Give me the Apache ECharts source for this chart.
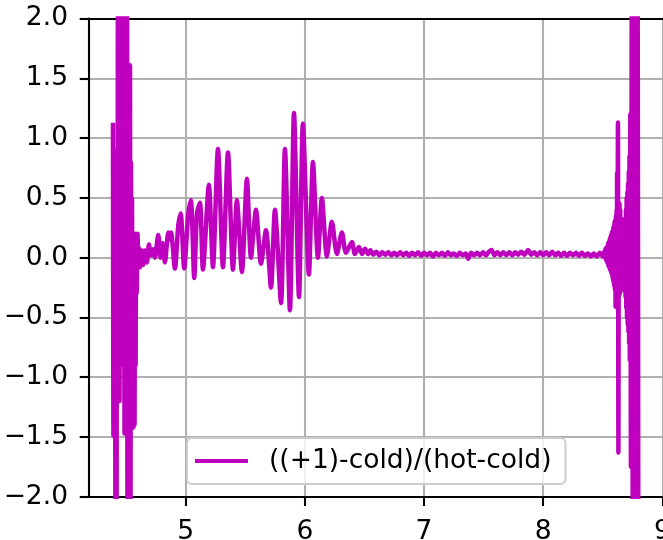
<!DOCTYPE html>
<html>
<head>
<meta charset="utf-8">
<script src="https://cdn.jsdelivr.net/npm/echarts@6/dist/echarts.min.js"></script>
<style>
html,body{margin:0;padding:0;background:#fff;}
#chart{width:663px;height:540px;}
</style>
</head>
<body>
<div id="chart"></div>
<script>
// ---- data ----
const seriesName = '((+1)-cold)/(hot-cold)';
const xTicks = [5, 6, 7, 8, 9];
const yTicks = [-2.0, -1.5, -1.0, -0.5, 0.0, 0.5, 1.0, 1.5, 2.0];

// left burst of large spikes
const leftX = [4.390, 4.394, 4.398, 4.403, 4.407, 4.411, 4.416, 4.420, 4.424, 4.428,
               4.432, 4.436, 4.441, 4.445, 4.449, 4.453, 4.457, 4.461, 4.466, 4.470,
               4.474, 4.478, 4.483, 4.487, 4.491, 4.495, 4.499, 4.503, 4.508, 4.512,
               4.516, 4.520, 4.524, 4.529, 4.533, 4.537, 4.541, 4.546, 4.550, 4.554,
               4.558, 4.562, 4.567, 4.571, 4.575, 4.580, 4.584, 4.589, 4.596];
const leftY = [1.11, -1.49, 0.90, -1.30, 0.60, -2.5, 0.50, -2.5, 0.83, -1.0,
               2.6, -0.9, 2.6, -1.2, 2.6, -0.8, 2.5, -0.73, 2.6, -0.73,
               2.5, -0.9, 1.21, -1.47, 2.6, -1.3, 2.6, -1.47, 2.4, -2.6,
               1.0, -2.6, 1.2, -2.5, 1.61, -2.4, 0.8, -1.42, 0.5, -1.42,
               0.19, -1.42, 0.20, -1.40, 0.20, -0.9, 0.15, -0.3, 0.20];

// oscillating packet between ~4.6 and ~6.5
const midX = [4.604, 4.608, 4.617, 4.631, 4.644, 4.659, 4.675, 4.692, 4.709, 4.728,
              4.742, 4.770, 4.790, 4.807, 4.826, 4.854, 4.866, 4.877, 4.910, 4.938,
              4.958, 4.988, 5.022, 5.044, 5.072, 5.095, 5.120, 5.145, 5.195, 5.229,
              5.271, 5.313, 5.355, 5.397, 5.430, 5.472, 5.514, 5.548, 5.590, 5.632,
              5.674, 5.716, 5.749, 5.800, 5.833, 5.875, 5.909, 5.951, 5.984, 6.034,
              6.068, 6.110, 6.143, 6.185, 6.227, 6.269, 6.311, 6.345, 6.395, 6.420,
              6.454];
const midY = [-0.05, 0.08, -0.08, 0.06, -0.06, 0.06, -0.04, 0.11, 0.02, 0.07,
              0.00, 0.19, 0.00, 0.12, -0.04, 0.21, 0.15, 0.21, -0.09, 0.27,
              0.37, -0.09, 0.37, 0.48, -0.17, 0.37, 0.46, -0.10, 0.61, -0.08,
              0.91, -0.08, 0.88, -0.10, 0.48, -0.12, 0.66, 0.00, 0.40, -0.05,
              0.23, -0.25, 0.40, -0.38, 0.91, -0.44, 1.21, -0.33, 1.12, -0.14,
              0.80, 0.00, 0.50, 0.01, 0.30, 0.03, 0.21, 0.04, 0.13, 0.03,
              0.09];

// nearly flat noisy stretch
const flatX = [6.480, 6.505, 6.530, 6.550, 6.575, 6.600, 6.625, 6.650, 6.675, 6.700,
               6.725, 6.750, 6.775, 6.800, 6.825, 6.850, 6.875, 6.900, 6.925, 6.950,
               6.975, 7.000, 7.025, 7.050, 7.075, 7.100, 7.125, 7.150, 7.175, 7.200,
               7.225, 7.250, 7.275, 7.300, 7.325, 7.350, 7.370, 7.395, 7.420, 7.445,
               7.470, 7.495, 7.520, 7.545, 7.567, 7.590, 7.615, 7.640, 7.665, 7.690,
               7.715, 7.740, 7.765, 7.790, 7.815, 7.840, 7.874, 7.900, 7.925, 7.950,
               7.975, 8.000, 8.025, 8.050, 8.075, 8.100, 8.125, 8.150, 8.175, 8.200,
               8.225, 8.250, 8.275, 8.300, 8.325, 8.350, 8.375, 8.400, 8.425, 8.450,
               8.475, 8.500, 8.512];
const flatY = [0.030, 0.075, 0.030, 0.065, 0.025, 0.050, 0.020, 0.045, 0.025, 0.045,
               0.020, 0.040, 0.020, 0.045, 0.020, 0.040, 0.015, 0.040, 0.020, 0.045,
               0.015, 0.040, 0.020, 0.040, 0.010, 0.040, 0.020, 0.040, 0.015, 0.045,
               0.020, 0.035, 0.015, 0.040, 0.020, 0.035, -0.010, 0.040, 0.020, 0.040,
               0.020, 0.045, 0.020, 0.050, 0.065, 0.020, 0.045, 0.020, 0.045, 0.020,
               0.045, 0.020, 0.045, 0.025, 0.050, 0.025, 0.065, 0.025, 0.045, 0.020,
               0.045, 0.020, 0.045, 0.020, 0.050, 0.020, 0.040, 0.015, 0.040, 0.015,
               0.040, 0.020, 0.040, 0.015, 0.040, 0.015, 0.035, 0.010, 0.035, 0.010,
               0.040, 0.010, 0.050];

// right burst
const rightX = [8.518, 8.521, 8.524, 8.527, 8.530, 8.533, 8.536, 8.539, 8.542, 8.545,
                8.548, 8.551, 8.554, 8.557, 8.560, 8.563, 8.566, 8.569, 8.572, 8.575,
                8.578, 8.581, 8.584, 8.587, 8.590, 8.593, 8.596, 8.599, 8.602, 8.605,
                8.607, 8.610, 8.613, 8.616, 8.618, 8.620, 8.623, 8.627, 8.631, 8.634,
                8.637, 8.640, 8.643, 8.646, 8.649, 8.652, 8.655, 8.658, 8.661, 8.664,
                8.667, 8.670, 8.673, 8.676, 8.679, 8.682, 8.685, 8.688, 8.691, 8.694,
                8.697, 8.700, 8.703, 8.706, 8.709, 8.712, 8.715, 8.718, 8.721, 8.724,
                8.727, 8.731, 8.736, 8.744, 8.752, 8.760, 8.768, 8.776, 8.784, 8.792,
                8.798];
const rightY = [0.00, 0.07, -0.01, 0.08, -0.03, 0.09, -0.04, 0.10, -0.05, 0.12,
                -0.07, 0.13, -0.08, 0.15, -0.10, 0.17, -0.11, 0.19, -0.13, 0.21,
                -0.15, 0.22, -0.18, 0.25, -0.21, 0.27, -0.24, 0.30, -0.27, 0.32,
                -0.41, 0.35, -0.30, 0.40, -0.33, 0.71, -0.35, 1.13, -1.63, 0.45,
                -0.32, 0.45, -0.30, 0.40, -0.28, 0.33, -0.26, 0.28, -0.24, 0.25,
                -0.22, 0.23, -0.23, 0.26, -0.25, 0.29, -0.28, 0.33, -0.33, 0.40,
                -0.42, 0.50, -0.50, 0.55, -0.56, 0.62, -0.62, 0.72, -0.72, 0.85,
                -0.86, 1.20, -1.75, 2.6, -2.6, 2.6, -2.6, 2.6, -2.6, 2.6,
                -2.6];

// ---- build ----
const allX = leftX.concat(midX, flatX, rightX);
const allY = leftY.concat(midY, flatY, rightY);
const seriesData = allX.map((x, i) => [x, allY[i]]);

const FONT = 'DejaVu Sans';
const FS = 26.5;
const LW = 2.1;
const fmtY = v => (v < 0 ? '\u2212' : '') + Math.abs(v).toFixed(1);

const chart = echarts.init(document.getElementById('chart'), null, {renderer: 'canvas'});
chart.setOption({
  animation: false,
  backgroundColor: '#ffffff',
  grid: {left: 89, top: 18.6, right: 0.6, bottom: 43.3, containLabel: false, outerBoundsMode: 'none'},
  legend: {
    data: [seriesName],
    left: 187, top: 438,
    orient: 'horizontal',
    icon: 'rect',
    itemWidth: 53, itemHeight: 4,
    padding: [9, 14, 9, 8],
    backgroundColor: 'rgba(255,255,255,0.8)',
    borderColor: '#cccccc', borderWidth: 2, borderRadius: 5,
    textStyle: {fontFamily: FONT, fontSize: FS, color: '#000', padding: [0, 0, 0, 16], lineHeight: 28},
    z: 10
  },
  xAxis: [{
    type: 'value', min: 4.189, max: 9.0, position: 'bottom',
    axisLine: {show: true, onZero: false, lineStyle: {color: '#000', width: LW}},
    axisTick: {show: true, inside: false, length: 9.3, customValues: xTicks, lineStyle: {color: '#000', width: LW}},
    axisLabel: {show: true, customValues: xTicks, margin: 22, fontFamily: FONT, fontSize: FS, color: '#000',
                formatter: v => String(v)},
    splitLine: {show: true, lineStyle: {color: '#b0b0b0', width: LW}}
  }, {
    type: 'value', min: 4.189, max: 9.0, position: 'top',
    axisLine: {show: true, onZero: false, lineStyle: {color: '#000', width: LW}},
    axisTick: {show: false}, axisLabel: {show: false}, splitLine: {show: false}
  }],
  yAxis: {
    type: 'value', min: yTicks[0], max: yTicks[yTicks.length - 1], interval: 0.5,
    axisLine: {show: true, onZero: false, lineStyle: {color: '#000', width: LW}},
    axisTick: {show: true, inside: false, length: 9.3, lineStyle: {color: '#000', width: LW}},
    axisLabel: {show: true, margin: 21, fontFamily: FONT, fontSize: FS, color: '#000', formatter: fmtY},
    splitLine: {show: true, lineStyle: {color: '#b0b0b0', width: LW}}
  },
  series: [{
    name: seriesName,
    type: 'line',
    xAxisIndex: 0,
    data: seriesData,
    showSymbol: false, symbol: 'none',
    clip: true,
    sampling: null,
    smooth: 0.25,
    color: '#bf00bf',
    lineStyle: {color: '#bf00bf', width: 4.5, join: 'round', cap: 'square'},
    z: 3
  }]
});
</script>
</body>
</html>
